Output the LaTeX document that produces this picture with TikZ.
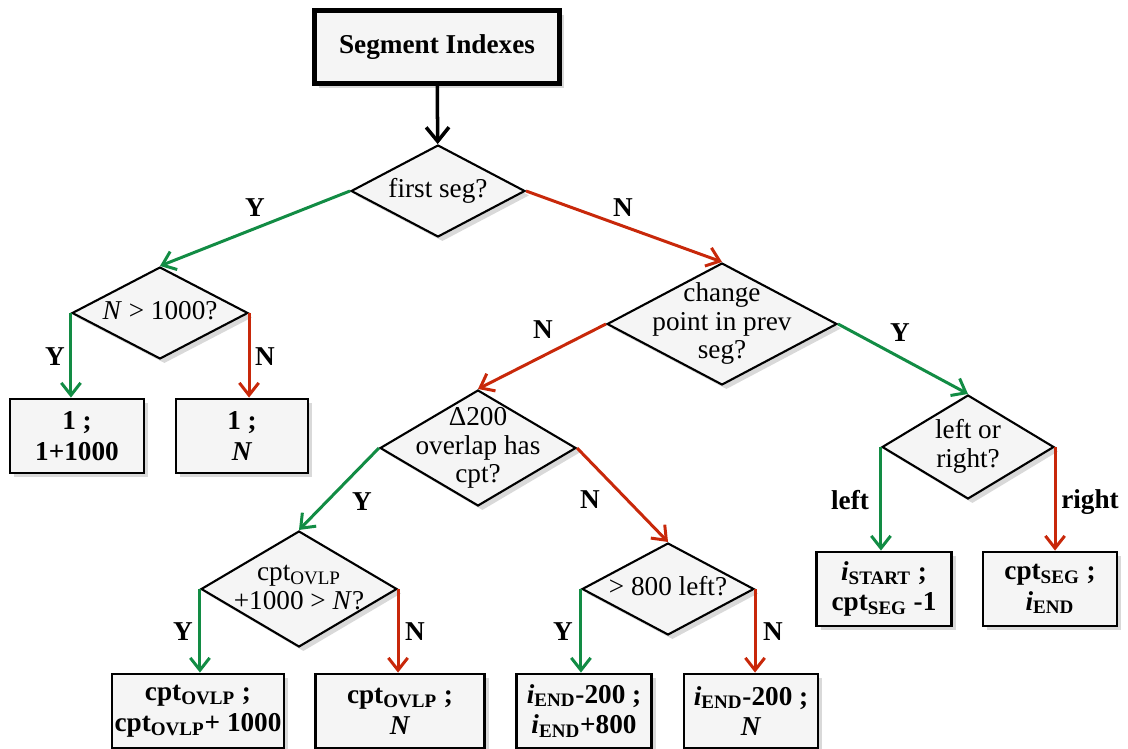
\documentclass[tikz,border=0pt]{standalone}
\usepackage{fontspec}
\setmainfont{Liberation Serif}
\usetikzlibrary{shapes.geometric,arrows.meta,shadows}
\definecolor{yesgreen}{RGB}{18,140,68}
\definecolor{nored}{RGB}{200,40,10}
\definecolor{boxgray}{RGB}{245,245,245}
% text of a decision, kept out of the diamond's size
\newcommand{\dtxt}[1]{\makebox[0pt]{\smash{\raisebox{-0.25em}{\begin{tabular}[c]{@{}c@{}}#1\end{tabular}}}}}
\newcommand{\sub}[1]{\textsubscript{#1}}

\tikzset{
	shade/.style={drop shadow={shadow xshift=2.5pt,shadow yshift=-2.5pt,opacity=0.3}},
	decision/.style={diamond,draw,line width=1.2pt,fill=boxgray,inner sep=0pt,shade},
	outcome/.style={rectangle,draw,line width=1.6pt,fill=boxgray,align=center,
		minimum width=2.7cm,minimum height=1.48cm,inner sep=0pt,
		font=\fontsize{15.5}{17.5}\selectfont\bfseries,shade},
	yes/.style={draw=yesgreen,line width=1.7pt,-{Straight Barb[length=7pt,width=11pt]}},
	no/.style={draw=nored,line width=1.7pt,-{Straight Barb[length=7pt,width=11pt]}},
	answer/.style={font=\fontsize{15.5}{16}\selectfont\bfseries}
}

\begin{document}
\begin{tikzpicture}[x=0.02cm,y=-0.02cm,font=\fontsize{15.5}{16.2}\selectfont]
				\useasboundingbox (0,0) rectangle (1128,749);
				% start
				\node[outcome,line width=2.8pt,minimum width=4.9cm,minimum height=1.46cm] (start) at (437,47) {Segment Indexes};
				% decisions
				\node[decision,minimum width=3.48cm,minimum height=1.84cm] (first) at (438,191) {\dtxt{first seg?}};
				\node[decision,minimum width=3.52cm,minimum height=1.84cm] (big) at (160,313) {\dtxt{\textit{N} > 1000?}};
				\node[decision,minimum width=4.6cm,minimum height=2.44cm] (prev) at (722,324) {\dtxt{change\\point in prev\\seg?}};
				\node[decision,minimum width=3.92cm,minimum height=2.32cm] (ovlp) at (478,448) {\dtxt{Δ200\\overlap has\\cpt?}};
				\node[decision,minimum width=3.44cm,minimum height=2.08cm] (side) at (968,447) {\dtxt{left or\\right?}};
				\node[decision,minimum width=3.92cm,minimum height=2.32cm] (reach) at (299,589) {\dtxt{cpt\sub{OVLP}\\+1000 > \textit{N}?}};
				\node[decision,minimum width=3.44cm,minimum height=1.84cm] (room) at (668,589) {\dtxt{> 800 left?}};
				% results
				\node[outcome,minimum width=2.68cm] (r1) at (77,436) {1 ;\\1+1000};
				\node[outcome,minimum width=2.64cm] (r2) at (242,436) {1 ;\\\textit{N}};
				\node[outcome,minimum width=3.44cm] (r3) at (198,711) {cpt\sub{OVLP} ;\\cpt\sub{OVLP}+ 1000};
				\node[outcome,minimum width=3.38cm] (r4) at (400,711) {cpt\sub{OVLP} ;\\\textit{N}};
				\node[outcome] (r5) at (584,711) {\textit{i}\sub{END}-200 ;\\\textit{i}\sub{END}+800};
				\node[outcome,minimum width=2.68cm] (r6) at (751,711) {\textit{i}\sub{END}-200 ;\\\textit{N}};
				\node[outcome] (r7) at (884,589) {\textit{i}\sub{START} ;\\cpt\sub{SEG} -1};
				\node[outcome,minimum width=2.68cm] (r8) at (1050,589) {cpt\sub{SEG} ;\\\textit{i}\sub{END}};
				% connectors
				\draw[line width=2pt,-{Straight Barb[length=8pt,width=13pt]}] (start) -- (first);
				\draw[yes] (first.west) -- (big.north);
				\draw[no] (first.east) -- (prev.north);
				\draw[yes] (big.west) -- (big.west |- r1.north);
				\draw[no] (big.east) -- (big.east |- r2.north);
				\draw[no] (prev.west) -- (ovlp.north);
				\draw[yes] (prev.east) -- (side.north);
				\draw[yes] (ovlp.west) -- (reach.north);
				\draw[no] (ovlp.east) -- (room.north);
				\draw[yes] (reach.west) -- (reach.west |- r3.north);
				\draw[no] (reach.east) -- (reach.east |- r4.north);
				\draw[yes] (room.west) -- (room.west |- r5.north);
				\draw[no] (room.east) -- (room.east |- r6.north);
				\draw[yes] (side.west) -- (side.west |- r7.north);
				\draw[no] (side.east) -- (side.east |- r8.north);
				% answers
				\node[answer] (a1) at (255,208) {Y};
				\node[answer] (a2) at (623,208) {N};
				\node[answer] (a3) at (55,357) {Y};
				\node[answer] (a4) at (265,357) {N};
				\node[answer] (a5) at (543,330) {N};
				\node[answer] (a6) at (900,333) {Y};
				\node[answer] (a7) at (362,502) {Y};
				\node[answer] (a8) at (590,500) {N};
				\node[answer] (a9) at (850,500) {left};
				\node[answer,anchor=base] (a10) at (1090,508) {right};
				\node[answer] (a11) at (183,632) {Y};
				\node[answer] (a12) at (415,632) {N};
				\node[answer] (a13) at (563,632) {Y};
				\node[answer] (a14) at (773,632) {N};
			\end{tikzpicture}
\end{document}
